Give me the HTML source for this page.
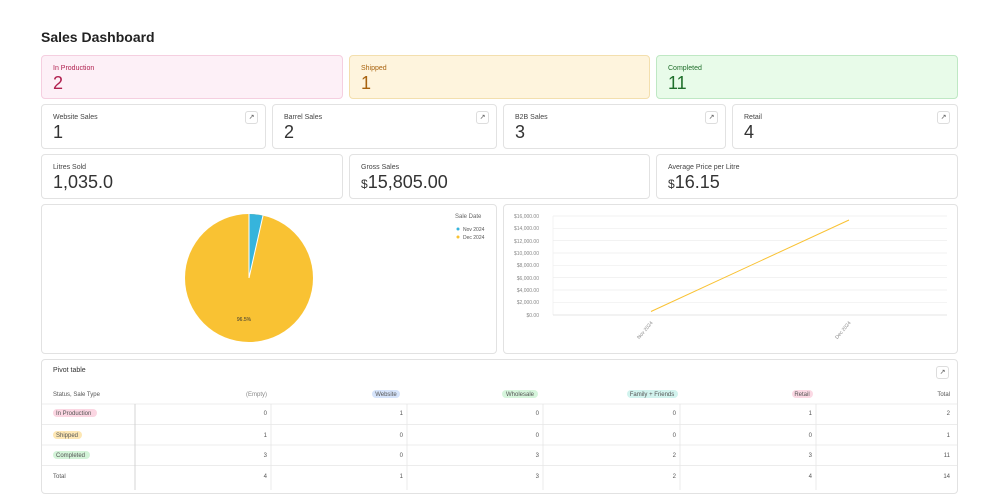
<!DOCTYPE html>
<html><head><style>
*{box-sizing:border-box;margin:0;padding:0}
body{width:1000px;height:500px;background:#fff;font-family:"Liberation Sans",sans-serif;color:#222;position:relative;overflow:hidden}
.a{position:absolute}
.c{position:absolute;border:1px solid #e2e2e2;border-radius:4px;background:#fff}
.l{position:absolute;left:11px;top:9px;font-size:7px;color:#444}
.v{position:absolute;left:11px;top:17px;font-size:18px;color:#333}
.ic{position:absolute;right:7px;top:6px;width:13px;height:13px;border:1px solid #ddd;border-radius:3px;font-size:7px;text-align:center;line-height:11px;color:#555}
.t{font-size:6px;color:#555}
</style></head><body>
<div class="a" style="left:41px;top:29px;font-size:14px;font-weight:bold">Sales Dashboard</div>

<div class="c" style="left:41px;top:55px;width:302px;height:44px;background:#fdf0f7;border-color:#f5cfe0"><div class="l" style="color:#b0204f">In Production</div><div class="v" style="color:#b0204f">2</div></div>
<div class="c" style="left:349px;top:55px;width:301px;height:44px;background:#fef4dd;border-color:#f3dfae"><div class="l" style="color:#a8620e">Shipped</div><div class="v" style="color:#a8620e">1</div></div>
<div class="c" style="left:656px;top:55px;width:302px;height:44px;background:#e8fbe9;border-color:#bfe8c4"><div class="l" style="color:#1f6e2b">Completed</div><div class="v" style="color:#1f6e2b">11</div></div>

<div class="c" style="left:41px;top:104px;width:225px;height:45px"><div class="l">Website Sales</div><div class="v">1</div><div class="ic">↗</div></div>
<div class="c" style="left:272px;top:104px;width:225px;height:45px"><div class="l">Barrel Sales</div><div class="v">2</div><div class="ic">↗</div></div>
<div class="c" style="left:503px;top:104px;width:223px;height:45px"><div class="l">B2B Sales</div><div class="v">3</div><div class="ic">↗</div></div>
<div class="c" style="left:732px;top:104px;width:226px;height:45px"><div class="l">Retail</div><div class="v">4</div><div class="ic">↗</div></div>

<div class="c" style="left:41px;top:154px;width:302px;height:45px"><div class="l">Litres Sold</div><div class="v">1,035.0</div></div>
<div class="c" style="left:349px;top:154px;width:301px;height:45px"><div class="l">Gross Sales</div><div class="v"><span style="font-size:12px">$</span>15,805.00</div></div>
<div class="c" style="left:656px;top:154px;width:302px;height:45px"><div class="l">Average Price per Litre</div><div class="v"><span style="font-size:12px">$</span>16.15</div></div>

<div class="c" style="left:41px;top:204px;width:456px;height:150px"></div>
<svg class="a" style="left:0;top:0" width="1000" height="500">
<circle cx="249" cy="278" r="64" fill="#f9c233"/>
<path d="M249 278 L249 214 A64 64 0 0 1 263 215.6 Z" fill="#36b4dc"/>
<path d="M249 278 L249 214" stroke="#fff" stroke-width="1"/>
<path d="M249 278 L263 215.6" stroke="#fff" stroke-width="1"/>
<text x="244" y="321" font-size="5" text-anchor="middle" fill="#333" font-family="Liberation Sans">96.5%</text>
<text x="455" y="218" font-size="6" fill="#666" font-family="Liberation Sans">Sale Date</text>
<circle cx="458" cy="229" r="1.5" fill="#36b4dc"/><text x="463" y="231" font-size="5" fill="#555" font-family="Liberation Sans">Nov 2024</text>
<circle cx="458" cy="237" r="1.5" fill="#f9c233"/><text x="463" y="239" font-size="5" fill="#555" font-family="Liberation Sans">Dec 2024</text>
</svg>

<div class="c" style="left:503px;top:204px;width:455px;height:150px"></div>
<svg class="a" style="left:0;top:0" width="1000" height="500" font-family="Liberation Sans" font-size="5" fill="#888">
<g stroke="#eee" stroke-width="0.7">
<line x1="553" x2="947" y1="216" y2="216"/><line x1="553" x2="947" y1="228.3" y2="228.3"/><line x1="553" x2="947" y1="240.6" y2="240.6"/><line x1="553" x2="947" y1="253" y2="253"/><line x1="553" x2="947" y1="265.3" y2="265.3"/><line x1="553" x2="947" y1="277.6" y2="277.6"/><line x1="553" x2="947" y1="290" y2="290"/><line x1="553" x2="947" y1="302.3" y2="302.3"/>
<line x1="553" x2="553" y1="216" y2="315"/></g>
<line x1="553" x2="947" y1="315" y2="315" stroke="#ddd" stroke-width="0.8"/>
<g text-anchor="end"><text x="539" y="218">$16,000.00</text><text x="539" y="230">$14,000.00</text><text x="539" y="243">$12,000.00</text><text x="539" y="255">$10,000.00</text><text x="539" y="267">$8,000.00</text><text x="539" y="280">$6,000.00</text><text x="539" y="292">$4,000.00</text><text x="539" y="304">$2,000.00</text><text x="539" y="317">$0.00</text></g>
<line x1="651" y1="311.5" x2="849" y2="220" stroke="#f9c233" stroke-width="1"/>
<text transform="translate(653,323) rotate(-50)" text-anchor="end">Nov 2024</text>
<text transform="translate(851,323) rotate(-50)" text-anchor="end">Dec 2024</text>
</svg>

<div class="c" style="left:41px;top:359px;width:917px;height:135px"></div>
<div class="a t" style="left:53px;top:367px;font-size:7px;color:#333">Pivot table</div>
<div class="ic" style="left:936px;top:366px;right:auto">↗</div>
<svg class="a" style="left:0;top:0" width="1000" height="500" font-family="Liberation Sans" font-size="6" fill="#555">
<g stroke="#e6e6e6" stroke-width="0.8">
<line x1="42" x2="957" y1="404" y2="404"/><line x1="42" x2="957" y1="424.5" y2="424.5"/><line x1="42" x2="957" y1="445" y2="445"/><line x1="42" x2="957" y1="465.5" y2="465.5"/>
<line x1="271" x2="271" y1="404" y2="490"/><line x1="407" x2="407" y1="404" y2="490"/><line x1="543" x2="543" y1="404" y2="490"/><line x1="680" x2="680" y1="404" y2="490"/><line x1="816" x2="816" y1="404" y2="490"/></g>
<line x1="135" x2="135" y1="404" y2="490" stroke="#ccc" stroke-width="0.8"/>
<text x="53" y="396">Status, Sale Type</text>
<g text-anchor="end"><text x="267" y="396" fill="#888">(Empty)</text><text x="950" y="396">Total</text></g>
<rect x="372" y="390" width="28" height="8" rx="4" fill="#d6e4fb"/><text x="386" y="396" text-anchor="middle">Website</text>
<rect x="502" y="390" width="36" height="8" rx="4" fill="#d6f5dc"/><text x="520" y="396" text-anchor="middle">Wholesale</text>
<rect x="627" y="390" width="51" height="8" rx="4" fill="#d2f3ee"/><text x="652" y="396" text-anchor="middle">Family + Friends</text>
<rect x="792" y="390" width="21" height="8" rx="4" fill="#fbd9e4"/><text x="802" y="396" text-anchor="middle">Retail</text>
<rect x="53" y="409" width="44" height="8" rx="4" fill="#fbd6e2"/><text x="56" y="415">In Production</text>
<rect x="53" y="431" width="29" height="8" rx="4" fill="#fde7b4"/><text x="56" y="437">Shipped</text>
<rect x="53" y="451" width="37" height="8" rx="4" fill="#d3f3d8"/><text x="56" y="457">Completed</text>
<text x="53" y="478">Total</text>
<g text-anchor="end">
<text x="267" y="415">0</text><text x="403" y="415">1</text><text x="539" y="415">0</text><text x="676" y="415">0</text><text x="812" y="415">1</text><text x="950" y="415">2</text>
<text x="267" y="437">1</text><text x="403" y="437">0</text><text x="539" y="437">0</text><text x="676" y="437">0</text><text x="812" y="437">0</text><text x="950" y="437">1</text>
<text x="267" y="457">3</text><text x="403" y="457">0</text><text x="539" y="457">3</text><text x="676" y="457">2</text><text x="812" y="457">3</text><text x="950" y="457">11</text>
<text x="267" y="478">4</text><text x="403" y="478">1</text><text x="539" y="478">3</text><text x="676" y="478">2</text><text x="812" y="478">4</text><text x="950" y="478">14</text>
</g>
</svg>
</body></html>
